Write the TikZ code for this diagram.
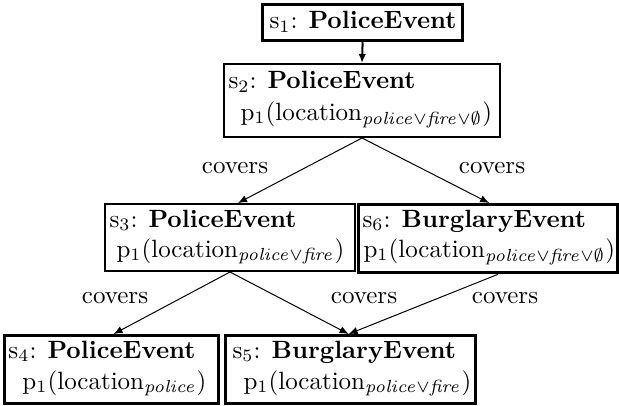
\documentclass[tikz,border=0pt]{standalone}
\usetikzlibrary{arrows.meta,calc}
\begin{document}
\begin{tikzpicture}[x=0.4pt,y=-0.4pt,
  thinbox/.style={draw,line width=0.8pt,inner sep=0pt,anchor=north west},
  thickbox/.style={draw,line width=1.3pt,inner sep=0pt,anchor=north west},
  txt/.style={anchor=base west,inner sep=0pt},
  edge/.style={line width=0.4pt,-{Latex[length=3.6pt,width=3pt]}},
  lbl/.style={inner sep=0pt}]
\useasboundingbox (0,0) rectangle (619,406);
% boxes
\node[thickbox,minimum width=200*0.4pt,minimum height=36*0.4pt] (s1) at (261,3) {};
\node[thinbox,minimum width=276*0.4pt,minimum height=73*0.4pt] (s2) at (223,63) {};
\node[thinbox,minimum width=250*0.4pt,minimum height=67*0.4pt] (s3) at (104,203) {};
\node[thickbox,minimum width=259*0.4pt,minimum height=68*0.4pt] (s6) at (357,203) {};
\node[thickbox,minimum width=214*0.4pt,minimum height=68*0.4pt] (s4) at (3,334) {};
\node[thickbox,minimum width=250*0.4pt,minimum height=68*0.4pt] (s5) at (224,334) {};
% texts
\node[txt] (t1) at (269,29) {s$_1$: \textbf{PoliceEvent}};
\node[txt] (t2a) at (228,89) {s$_2$: \textbf{PoliceEvent}};
\node[txt] (t2b) at (240,120) {p$_1$(location$_{\mathit{police}\vee\mathit{fire}\vee\emptyset}$)};
\node[txt] (t3a) at (109,227) {s$_3$: \textbf{PoliceEvent}};
\node[txt] (t3b) at (116,257) {p$_1$(location$_{\mathit{police}\vee\mathit{fire}}$)};
\node[txt] (t6a) at (362,227) {s$_6$: \textbf{BurglaryEvent}};
\node[txt] (t6b) at (363,257) {p$_1$(location$_{\mathit{police}\vee\mathit{fire}\vee\emptyset}$)};
\node[txt] (t4a) at (8,358) {s$_4$: \textbf{PoliceEvent}};
\node[txt] (t4b) at (22,389) {p$_1$(location$_{\mathit{police}}$)};
\node[txt] (t5a) at (232,358) {s$_5$: \textbf{BurglaryEvent}};
\node[txt] (t5b) at (243,389) {p$_1$(location$_{\mathit{police}\vee\mathit{fire}}$)};
% edges
\draw[edge,line width=0.8pt] (s1.south) -- (s2.north);
\draw[edge] (s2.south) -- ($(s3.north)+(8,0)$);
\draw[edge] (s2.south) -- ($(s6.north)+(1,0)$);
\draw[edge] (s3.south) -- ($(s4.north)+(2,0)$);
\draw[edge] (s3.south) -- ($(s5.north)+(-2,0)$);
\draw[edge] ($(s6.south)+(10,0)$) -- ($(s5.north)+(-2,0)$);
% labels
\node[lbl] (c1) at (235,168) {covers};
\node[lbl] (c2) at (492,168) {covers};
\node[lbl] (c3) at (115,298) {covers};
\node[lbl] (c4) at (364,298) {covers};
\node[lbl] (c5) at (505,298) {covers};
\end{tikzpicture}
\end{document}
